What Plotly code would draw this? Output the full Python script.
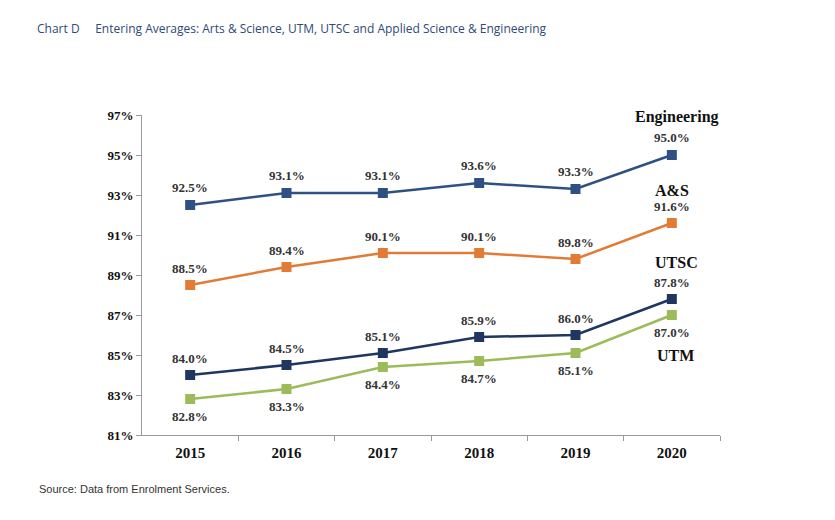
import plotly.graph_objects as go

years = ["2015", "2016", "2017", "2018", "2019", "2020"]
engineering = [92.5, 93.1, 93.1, 93.6, 93.3, 95.0]
arts_science = [88.5, 89.4, 90.1, 90.1, 89.8, 91.6]
utsc = [84.0, 84.5, 85.1, 85.9, 86.0, 87.8]
utm = [82.8, 83.3, 84.4, 84.7, 85.1, 87.0]
y_ticks = [81, 83, 85, 87, 89, 91, 93, 95, 97]

series = [
    ("Engineering", engineering, "#2F5083", 18),
    ("A&S", arts_science, "#E27B35", 17),
    ("UTSC", utsc, "#1E3660", 17),
    ("UTM", utm, "#9CBB5B", -17),
]

serif = "Liberation Serif"
fig = go.Figure()
xs = list(range(len(years)))
for name, vals, color, shift in series:
    fig.add_trace(go.Scatter(
        x=xs, y=vals, mode="lines+markers", name=name,
        line=dict(color=color, width=2.5),
        marker=dict(symbol="square", size=10, color=color),
        cliponaxis=False, showlegend=False,
    ))
    for xi, v in zip(xs, vals):
        fig.add_annotation(x=xi, y=v, text=f"<b>{v:.1f}%</b>", showarrow=False,
                           yshift=shift, font=dict(family=serif, size=13, color="#333333"))

name_pos = [("Engineering", 96.9, 5.05), ("A&S", 93.25, 5.0), ("UTSC", 89.65, 5.05), ("UTM", 85.0, 5.04)]
for label, yv, xv in name_pos:
    fig.add_annotation(x=xv, y=yv, text=f"<b>{label}</b>", showarrow=False,
                       xref="x", yref="y",
                       font=dict(family=serif, size=16, color="#111111"))

# page body has 8px offset; compensate
OFF = 8
W, H = 835, 520
ml, mr, mt, mb = 142 - OFF, 115 + OFF, 115 - OFF, 85 + OFF
pw, ph = W - ml - mr, H - mt - mb

def px_to_paper(px, py):
    return (px - OFF - ml) / pw, 1 - (py - OFF - mt) / ph

tx, ty = px_to_paper(35, 29)
fig.add_annotation(x=tx, y=ty, xref="paper", yref="paper",
                   text="Chart D&nbsp;&nbsp;&nbsp;&nbsp;&nbsp;Entering Averages: Arts &amp; Science, UTM, UTSC and Applied Science &amp; Engineering",
                   showarrow=False, xanchor="left", yanchor="middle",
                   font=dict(family="Open Sans", size=12, color="#2E4A78"))
sx, sy = px_to_paper(37, 489)
fig.add_annotation(x=sx, y=sy, xref="paper", yref="paper", text="Source: Data from Enrolment Services.",
                   showarrow=False, xanchor="left", yanchor="middle",
                   font=dict(family="Liberation Sans", size=11, color="#333333"))

fig.update_layout(
    width=W, height=H,
    margin=dict(l=ml, r=mr, t=mt, b=mb),
    plot_bgcolor="white", paper_bgcolor="white",
)
fig.update_xaxes(
    range=[-0.5, 5.5], tickmode="array", tickvals=xs, ticktext=years,
    showgrid=False, zeroline=False, showline=True, linecolor="#9a9a9a", linewidth=1,
    ticks="", ticklabelstandoff=4,
    tickfont=dict(family=serif, size=15, color="#111111", weight="bold"),
    minor=dict(tickmode="array", tickvals=[0.5, 1.5, 2.5, 3.5, 4.5, 5.5], ticks="outside", ticklen=5, tickcolor="#9a9a9a"),
)
fig.update_yaxes(
    range=[81, 97], tickmode="array", tickvals=y_ticks, ticktext=[f"{t}%" for t in y_ticks],
    showgrid=False, zeroline=False, showline=True, linecolor="#9a9a9a", linewidth=1,
    ticks="outside", ticklen=5, tickcolor="#9a9a9a",
    tickfont=dict(family=serif, size=13, color="#111111", weight="bold"),
)
fig.write_html("out.html")
